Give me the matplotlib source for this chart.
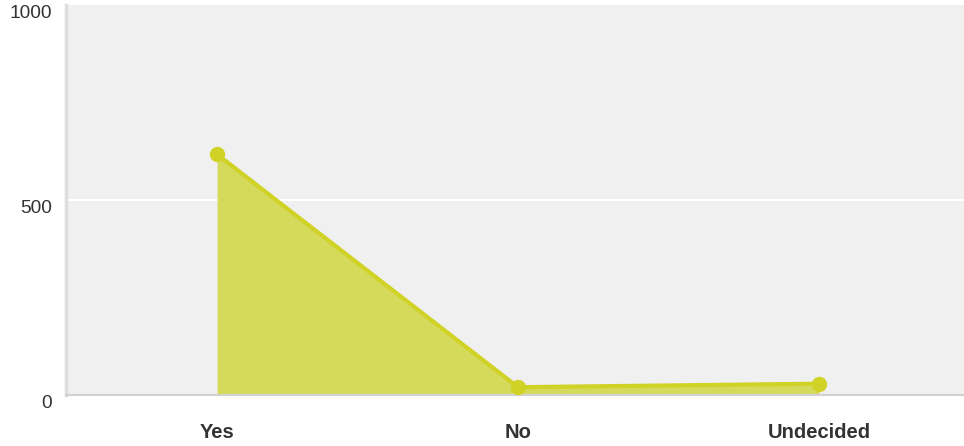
import matplotlib.pyplot as plt
import numpy as np

plt.rcParams['font.family'] = ['Liberation Sans', 'DejaVu Sans']

# answers and counts
answers = ['Yes', 'No', 'Undecided']
counts = [617, 20, 29]
y_ticks = [0, 500, 1000]

line_col = '#d0d226'
fill_col = '#d6da5a'

fig = plt.figure(figsize=(9.64, 4.46), dpi=100)
ax = fig.add_axes([66/964, 51/446, 898/964, 390/446])
ax.set_facecolor('#f0f0f0')

x = np.arange(len(answers))
ax.fill_between(x, counts, 0, color=fill_col, linewidth=0, zorder=2)
ax.plot(x, counts, color=line_col, lw=3, marker='o', markersize=10,
        solid_capstyle='round', zorder=3)

ax.set_xlim(-0.502, 2.482)
ax.set_ylim(0, 1000)

ax.set_yticks(y_ticks)
ax.set_yticklabels([str(v) for v in y_ticks], fontsize=13.8, color='#333333',
                   va='top')
ax.set_xticks(x)
ax.set_xticklabels(answers, fontsize=14.5, fontweight='bold', color='#333333')
ax.tick_params(axis='y', length=0, pad=10)
ax.tick_params(axis='x', length=0, pad=20)

# white gridline in the middle
for v in y_ticks[1:-1]:
    ax.axhline(v, color='white', lw=1.5, zorder=1)

for s in ['top', 'right']:
    ax.spines[s].set_visible(False)
ax.spines['left'].set_color('#dddddd')
ax.spines['left'].set_linewidth(2.5)
ax.spines['bottom'].set_color('#d2d2d2')
ax.spines['bottom'].set_linewidth(1.5)

fig.savefig('out.png', dpi=100)
